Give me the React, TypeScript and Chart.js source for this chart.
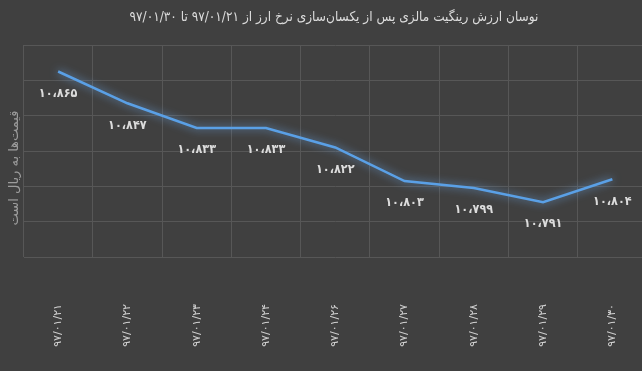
import { useEffect, useRef } from 'react';
import { Chart, registerables } from 'chart.js';

Chart.register(...registerables);

const chartTitle = 'نوسان ارزش رینگیت مالزی پس از یکسان‌سازی نرخ ارز از ۹۷/۰۱/۲۱ تا ۹۷/۰۱/۳۰';
const yAxisTitle = 'قیمت‌ها به ریال است';
const categories = ['۹۷/۰۱/۲۱', '۹۷/۰۱/۲۲', '۹۷/۰۱/۲۳', '۹۷/۰۱/۲۴', '۹۷/۰۱/۲۶', '۹۷/۰۱/۲۷', '۹۷/۰۱/۲۸', '۹۷/۰۱/۲۹', '۹۷/۰۱/۳۰'];
const values = [10865, 10847, 10833, 10833, 10822, 10803, 10799, 10791, 10804];
const yMin = 10760;
const yMax = 10880;
const yStep = 20;

const faDigits = '۰۱۲۳۴۵۶۷۸۹';
function toFa(n: number): string {
  const s = String(n).replace(/\B(?=(\d{3})+(?!\d))/g, '،');
  return s.replace(/\d/g, (d) => faDigits[Number(d)]);
}

const BG = '#404040';
const TEXT = '#dcdcdc';

const decorPlugin = {
  id: 'decor',
  beforeDraw(chart: any) {
    const ctx = chart.ctx;
    ctx.save();
    ctx.fillStyle = BG;
    ctx.fillRect(0, 0, chart.width, chart.height);
    ctx.restore();
  },
  beforeDatasetDraw(chart: any) {
    const ctx = chart.ctx;
    ctx.save();
    ctx.shadowColor = 'rgba(110,170,235,0.85)';
    ctx.shadowBlur = 9;
  },
  afterDatasetDraw(chart: any) {
    chart.ctx.restore();
  },
  afterDatasetsDraw(chart: any) {
    const ctx = chart.ctx;
    const meta = chart.getDatasetMeta(0);
    ctx.save();
    ctx.direction = 'rtl';
    ctx.fillStyle = TEXT;
    ctx.font = 'bold 12.5px "DejaVu Sans Condensed", "DejaVu Sans"';
    ctx.textAlign = 'center';
    ctx.textBaseline = 'middle';
    meta.data.forEach((pt: any, i: number) => {
      ctx.fillText(toFa(values[i]), pt.x, pt.y + 22);
    });
    ctx.restore();
  },
  afterDraw(chart: any) {
    const ctx = chart.ctx;
    ctx.save();
    ctx.direction = 'rtl';
    ctx.fillStyle = TEXT;
    ctx.font = '13.5px "DejaVu Sans Condensed", "DejaVu Sans"';
    ctx.textAlign = 'center';
    ctx.textBaseline = 'middle';
    ctx.fillText(chartTitle, 334, 17);
    ctx.translate(15, 168);
    ctx.rotate(-Math.PI / 2);
    ctx.fillStyle = '#9c9c9c';
    ctx.font = '13px "DejaVu Sans"';
    ctx.fillText(yAxisTitle, 0, 0);
    ctx.restore();
  },
};

export default function App() {
  const ref = useRef<HTMLCanvasElement>(null);
  useEffect(() => {
    if (!ref.current) return;
    const chart = new Chart(ref.current, {
      type: 'line',
      data: {
        labels: categories,
        datasets: [
          {
            data: values,
            borderColor: '#5aa0e6',
            borderWidth: 2.5,
            pointRadius: 0,
            tension: 0,
            fill: false,
          },
        ],
      },
      options: {
        animation: false,
        responsive: false,
        layout: { padding: { left: 23.5, top: 45, right: 0, bottom: 0 } },
        plugins: {
          legend: { display: false },
          title: { display: false },
          tooltip: { enabled: false },
        },
        scales: {
          x: {
            offset: true,
            grid: { offset: true, color: '#575757', lineWidth: 1, drawTicks: false },
            border: { display: false },
            ticks: {
              color: '#d0d0d0',
              font: { family: '"DejaVu Sans"', size: 11 },
              minRotation: 90,
              maxRotation: 90,
              padding: 47,
              autoSkip: false,
            },
            afterFit: (scale: any) => {
              scale.height = 114;
              scale.paddingLeft = 0;
              scale.paddingRight = 0;
            },
          },
          y: {
            min: yMin,
            max: yMax,
            ticks: { display: false, stepSize: yStep },
            grid: { color: '#575757', lineWidth: 1, drawTicks: false },
            border: { display: false },
            afterFit: (scale: any) => {
              scale.paddingTop = 0;
              scale.paddingBottom = 0;
            },
          },
        },
      },
      plugins: [decorPlugin],
    });
    return () => chart.destroy();
  }, []);
  return (
    <div
      style={{
        position: 'fixed',
        left: 0,
        top: 0,
        width: 642,
        height: 371,
        overflow: 'hidden',
        background: BG,
      }}
    >
      <canvas ref={ref} width={647} height={371} dir="rtl" style={{ display: 'block' }} />
    </div>
  );
}
